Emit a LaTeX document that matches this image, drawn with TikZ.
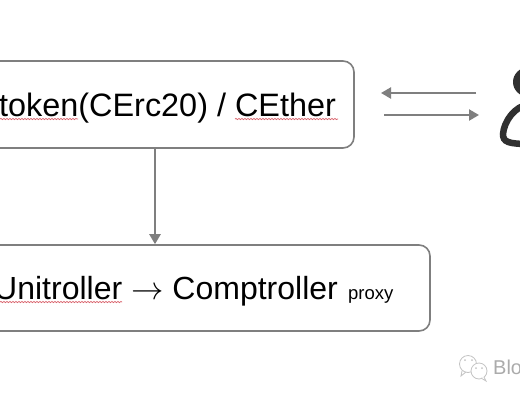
\documentclass[tikz,border=0pt]{standalone}
\usepackage{fontspec}
\usepackage{graphicx}
\setmainfont{Liberation Sans}
\usetikzlibrary{arrows.meta,decorations.pathmorphing}
\definecolor{edgegray}{HTML}{7F7F7F}
\definecolor{inkdark}{HTML}{303030}
\definecolor{wavered}{HTML}{D9606A}
\definecolor{markgray}{HTML}{ABABAB}
\definecolor{icongray}{HTML}{C4C4C4}
\tikzset{
  x=1pt,y=-1pt,
  boxnode/.style={draw=edgegray,line width=1.6pt,rounded corners=11pt,inner sep=0pt,fill=white},
  flow/.style={draw=edgegray,line width=2.2pt,-{Triangle[length=10pt,width=11pt]}},
  label/.style={inner sep=0pt,anchor=base west,text=black},
  wavy/.style={draw=wavered,line width=.7pt,decorate,decoration={snake,amplitude=.6pt,segment length=3pt}},
}
\begin{document}
\begin{tikzpicture}
\useasboundingbox (0,0) rectangle (520,400);
\clip (0,0) rectangle (520,400);
\fill[white] (0,0) rectangle (520,400);
\node[boxnode,minimum width=398pt,minimum height=87pt] (ctoken) at (155,104.5) {};
\node[boxnode,minimum width=550pt,minimum height=86pt] (unitroller) at (155,288) {};
\draw[flow] (ctoken) -- (unitroller);
\node[label,font=\fontsize{32.4}{36}\selectfont] (ctext) at (-1,116) {token(CErc20) / CEther};
\node[label,font=\fontsize{32}{36}\selectfont] (utext) at (-6,299) {Unitroller\hspace{.28em}\scalebox{1.3}{$\rightarrow$}\hspace{.28em}Comptroller};
\node[label,font=\fontsize{18.5}{20}\selectfont] (ptext) at (348,299) {proxy};
\draw[wavy] (0,119) -- (78,119);
\draw[wavy] (235,119) -- (338,119);
\draw[wavy] (0,302) -- (122,302);
\coordinate (la) at (476,93); \coordinate (lb) at (381,93);
\coordinate (ra) at (384,115); \coordinate (rb) at (479,115);
\draw[flow] (la) -- (lb);
\draw[flow] (ra) -- (rb);
% person icon
\fill[inkdark] (529,82) ellipse (16pt and 15pt);
\draw[inkdark,line width=6.5pt,line cap=round] (530,104) .. controls (514,106) and (504,122) .. (503,134) .. controls (503,142) and (508,144) .. (530,144);
% watermark
\draw[icongray,line width=.8pt] (468,364) circle (8.5pt);
\draw[icongray,line width=.8pt] (462,371) -- (461,376) -- (466,372);
\draw[icongray,line width=.8pt,fill=white] (479,371) circle (8pt);
\draw[icongray,line width=.8pt,fill=white] (484,377) -- (486,381) -- (481,378);
\fill[icongray] (465,360) circle (1pt) (472,360) circle (1pt) (476,368) circle (1pt) (482,368) circle (1pt);
\node[inner sep=0pt,anchor=base west,text=markgray,font=\fontsize{20}{22}\selectfont] (mark) at (493,374) {Blog};
\end{tikzpicture}
\end{document}
